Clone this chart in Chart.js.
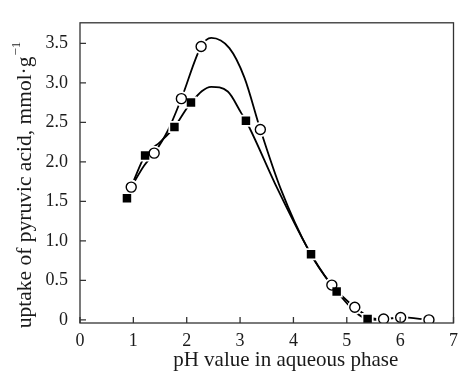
<!DOCTYPE html>
<html>
<head>
<meta charset="utf-8">
<script src="https://cdn.jsdelivr.net/npm/chart.js@4/dist/chart.umd.min.js"></script>
<style>
  html, body { margin: 0; padding: 0; background: #fff; }
  #wrap { width: 465px; height: 378px; }
</style>
</head>
<body>
<div id="wrap"><canvas id="chart"></canvas></div>
<script>
// measured points (filled squares / open circles)
const squareX = [0.88, 1.22, 1.77, 2.08, 3.11, 4.33, 4.81, 5.39];
const squareY = [1.54, 2.08, 2.44, 2.75, 2.52, 0.83, 0.36, 0.01];
const circleX = [0.96, 1.39, 1.90, 2.27, 3.38, 4.72, 5.15, 5.69, 6.01, 6.54];
const circleY = [1.68, 2.11, 2.80, 3.46, 2.41, 0.44, 0.16, 0.01, 0.03, 0.00];

// fitted curves
const squareCurveX = [0.98, 1.22, 1.50, 1.77, 2.08, 2.46, 2.77, 3.02, 3.11, 3.70, 4.33, 4.81, 5.39, 5.60];
const squareCurveY = [1.72, 2.08, 2.25, 2.44, 2.75, 2.95, 2.89, 2.62, 2.52, 1.66, 0.83, 0.36, 0.01, 0.00];
const circleCurveX = [0.96, 1.20, 1.39, 1.65, 1.90, 2.27, 2.46, 2.80, 3.08, 3.38, 3.76, 4.30, 4.72, 5.15, 5.45, 5.69, 6.01, 6.54];
const circleCurveY = [1.68, 1.95, 2.11, 2.40, 2.80, 3.46, 3.57, 3.44, 3.07, 2.41, 1.66, 0.86, 0.44, 0.16, 0.03, 0.01, 0.03, 0.00];

const xTicks = [0, 1, 2, 3, 4, 5, 6, 7];
const yTicks = [0, 0.5, 1.0, 1.5, 2.0, 2.5, 3.0, 3.5];

const xTitle = 'pH value in aqueous phase';
const yTitle = 'uptake of pyruvic acid, mmol·g';
const yTitleSup = '−1';

const pts = (xs, ys) => xs.map((x, i) => ({ x, y: ys[i] }));
const family = '"Liberation Serif", "DejaVu Serif", serif';
const tickFont = { family, size: 18 };
const ink = '#1a1a1a';

// box frame, inward tick marks, axis titles (titles sit a bit off-centre in the original)
const frame = {
    id: 'frame',
    afterDraw(chart) {
        const { ctx, chartArea: a, scales } = chart;
        ctx.save();
        ctx.strokeStyle = '#333';
        ctx.lineWidth = 1.3;
        ctx.strokeRect(a.left, a.top, a.right - a.left, a.bottom - a.top);
        ctx.beginPath();
        xTicks.forEach((v) => {
            const px = scales.x.getPixelForValue(v);
            ctx.moveTo(px, a.bottom);
            ctx.lineTo(px, a.bottom - 6);
        });
        yTicks.forEach((v) => {
            const py = scales.y.getPixelForValue(v);
            ctx.moveTo(a.left, py);
            ctx.lineTo(a.left + 6, py);
        });
        ctx.stroke();

        ctx.fillStyle = ink;
        ctx.textBaseline = 'middle';
        ctx.textAlign = 'center';
        ctx.font = '21px ' + family;
        ctx.fillText(xTitle, (a.left + a.right) / 2 + 19, 360);

        ctx.translate(25, (a.top + a.bottom) / 2 + 12);
        ctx.rotate(-Math.PI / 2);
        ctx.textAlign = 'left';
        ctx.font = '21.5px ' + family;
        const mainW = ctx.measureText(yTitle).width;
        ctx.font = '13px ' + family;
        const supW = ctx.measureText(yTitleSup).width;
        const start = -(mainW + supW + 1) / 2;
        ctx.font = '21.5px ' + family;
        ctx.fillText(yTitle, start, 0);
        ctx.font = '13px ' + family;
        ctx.fillText(yTitleSup, start + mainW + 1, -8);
        ctx.restore();
    },
};

new Chart(document.getElementById('chart'), {
    type: 'scatter',
    data: {
        datasets: [
            {
                data: pts(squareX, squareY),
                pointStyle: 'rect',
                pointRadius: 6,
                pointBackgroundColor: '#000',
                pointBorderWidth: 0,
                showLine: false,
                order: 0,
            },
            {
                data: pts(circleX, circleY),
                pointStyle: 'circle',
                pointRadius: 5,
                pointBackgroundColor: '#fff',
                pointBorderColor: '#000',
                pointBorderWidth: 1.4,
                showLine: false,
                order: 0,
            },
            {
                data: pts(squareX, squareY),
                pointStyle: 'rect',
                pointRadius: 8.5,
                pointBackgroundColor: '#fff',
                pointBorderWidth: 0,
                showLine: false,
                order: 1,
            },
            {
                data: pts(circleX, circleY),
                pointStyle: 'circle',
                pointRadius: 7.5,
                pointBackgroundColor: '#fff',
                pointBorderWidth: 0,
                showLine: false,
                order: 1,
            },
            {
                data: pts(squareCurveX, squareCurveY),
                showLine: true,
                borderColor: '#000',
                borderWidth: 1.8,
                pointRadius: 0,
                cubicInterpolationMode: 'monotone',
                order: 2,
            },
            {
                data: pts(circleCurveX, circleCurveY),
                showLine: true,
                borderColor: '#000',
                borderWidth: 1.8,
                pointRadius: 0,
                cubicInterpolationMode: 'monotone',
                order: 2,
            },
        ],
    },
    options: {
        responsive: true,
        maintainAspectRatio: false,
        animation: false,
        layout: { padding: { top: 12, right: 6, left: 0, bottom: 0 } },
        plugins: { legend: { display: false }, tooltip: { enabled: false } },
        scales: {
            x: {
                type: 'linear',
                min: 0,
                max: 7,
                afterBuildTicks: (s) => { s.ticks = xTicks.map((value) => ({ value })); },
                afterFit: (s) => { s.height = 55; },
                grid: { display: false, drawTicks: false },
                border: { display: false },
                ticks: { color: ink, font: tickFont, padding: 7, maxRotation: 0 },
            },
            y: {
                type: 'linear',
                min: -0.04,
                max: 3.76,
                afterBuildTicks: (s) => { s.ticks = yTicks.map((value) => ({ value })); },
                afterFit: (s) => { s.width = 80; },
                grid: { display: false, drawTicks: false },
                border: { display: false },
                ticks: {
                    color: ink,
                    font: tickFont,
                    padding: 12,
                    callback: (v) => (v === 0 ? '0' : v.toFixed(1)),
                },
            },
        },
    },
    plugins: [frame],
});
</script>
</body>
</html>
